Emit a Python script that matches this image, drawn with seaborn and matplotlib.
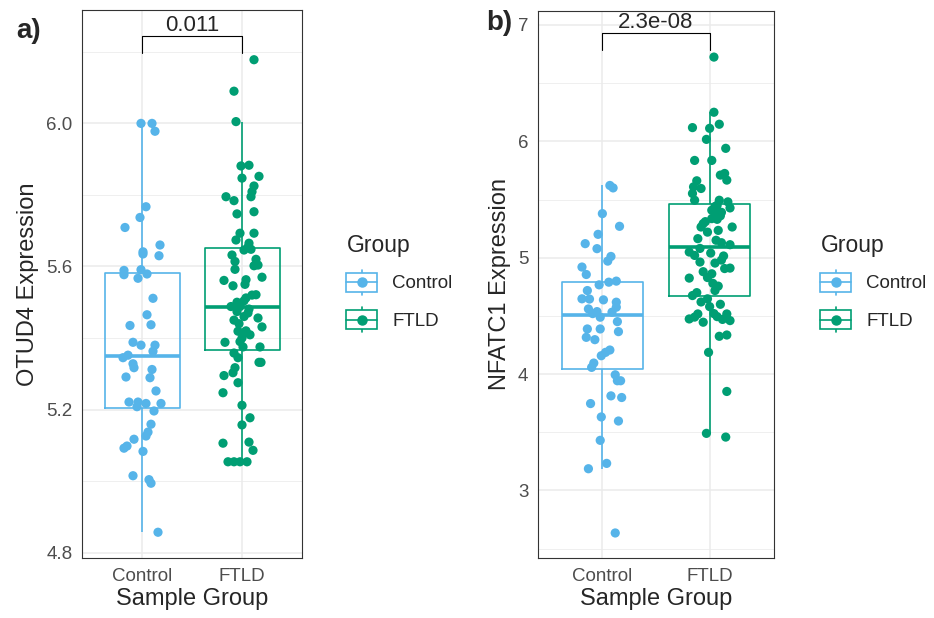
import pandas as pd
import matplotlib
matplotlib.use("Agg")
import matplotlib.pyplot as plt
import seaborn as sns
from matplotlib.legend_handler import HandlerBase
from matplotlib.lines import Line2D
from matplotlib.patches import Rectangle
from matplotlib.ticker import FixedLocator

groups = ["Control", "FTLD"]
palette = {"Control": "#56B4E9", "FTLD": "#009E73"}

# a) OTUD4 expression, values + horizontal jitter
otud4_control = [6.00, 6.00, 5.978, 5.767, 5.737, 5.709, 5.66, 5.641, 5.635, 5.630,
                 5.589, 5.577, 5.591, 5.567, 5.579, 5.511, 5.465, 5.435, 5.437, 5.388,
                 5.380, 5.380, 5.363, 5.352, 5.345, 5.328, 5.317, 5.312, 5.291, 5.289,
                 5.252, 5.221, 5.221, 5.217, 5.208, 5.217, 5.196, 5.159, 5.137, 5.126,
                 5.117, 5.098, 5.092, 5.083, 5.015, 5.004, 4.994, 4.857]
otud4_control_jit = [-0.01, 0.10, 0.13, 0.04, -0.02, -0.17, 0.18, 0.01, 0.01, 0.17,
                     -0.18, -0.18, -0.01, -0.04, 0.05, 0.11, 0.05, -0.12, 0.09, -0.09,
                     -0.01, 0.13, 0.11, -0.14, -0.19, -0.09, -0.08, 0.10, -0.16, 0.08,
                     0.14, -0.13, -0.04, 0.04, -0.05, 0.19, 0.12, 0.09, 0.06, 0.04,
                     -0.08, -0.15, -0.18, 0.01, -0.09, 0.07, 0.09, 0.16]
otud4_ftld = [6.178, 6.090, 6.005, 5.881, 5.883, 5.852, 5.847, 5.825, 5.809, 5.795,
              5.795, 5.784, 5.753, 5.747, 5.693, 5.693, 5.674, 5.665, 5.654, 5.646,
              5.648, 5.632, 5.620, 5.614, 5.604, 5.602, 5.592, 5.561, 5.563, 5.570,
              5.546, 5.521, 5.512, 5.504, 5.488, 5.488, 5.481, 5.474, 5.460, 5.456,
              5.431, 5.419, 5.414, 5.409, 5.400, 5.388, 5.375, 5.375, 5.358, 5.345,
              5.332, 5.332, 5.317, 5.303, 5.295, 5.275, 5.247, 5.212, 5.177, 5.157,
              5.106, 5.109, 5.086, 5.054, 5.054, 5.054, 5.054,
              5.44, 5.47, 5.42, 5.39, 5.45, 5.52, 5.50, 5.55]
otud4_ftld_jit = [0.12, -0.08, -0.06, -0.01, 0.07, 0.17, 0.00, 0.12, 0.10, 0.09,
                  -0.16, -0.08, 0.12, -0.05, -0.02, 0.12, -0.06, 0.07, 0.06, 0.02,
                  0.09, -0.10, 0.14, -0.07, 0.16, 0.12, -0.07, -0.18, 0.04, 0.20,
                  -0.09, 0.14, 0.04, 0.02, -0.11, -0.02, 0.07, -0.05, 0.02, 0.16,
                  0.20, -0.04, 0.01, 0.08, 0.00, -0.17, 0.18, 0.01, -0.08, -0.04,
                  0.19, 0.17, -0.07, -0.09, -0.18, -0.04, -0.19, 0.00, 0.08, 0.00,
                  -0.19, 0.07, 0.11, -0.14, -0.08, -0.02, 0.05,
                  -0.03, 0.06, 0.04, -0.02, -0.08, 0.10, -0.05, 0.03]
otud4_p = "0.011"

# b) NFATC1 expression
nfatc1_control = [5.621, 5.60, 5.379, 5.270, 5.201, 5.121, 5.078, 5.011, 4.971, 4.920,
                  4.856, 4.767, 4.790, 4.799, 4.718, 4.647, 4.645, 4.638, 4.618, 4.575,
                  4.560, 4.537, 4.532, 4.52, 4.489, 4.451, 4.388, 4.388, 4.365, 4.316,
                  4.296, 4.207, 4.187, 4.158, 4.095, 4.058, 3.994, 3.943, 3.943, 3.813,
                  3.799, 3.747, 3.632, 3.597, 3.431, 3.233, 3.187, 2.635]
nfatc1_control_jit = [0.07, 0.10, 0.00, 0.16, -0.04, -0.16, -0.05, 0.08, 0.05, -0.19,
                      -0.15, -0.03, 0.06, 0.13, -0.14, -0.19, -0.12, 0.01, 0.13, 0.13,
                      -0.13, -0.05, 0.09, -0.09, -0.02, 0.14, -0.14, -0.02, 0.15, -0.15,
                      -0.07, 0.07, 0.03, -0.01, -0.08, -0.10, 0.12, 0.14, 0.17, 0.08,
                      0.18, -0.11, -0.01, 0.15, -0.02, 0.04, -0.13, 0.12]
nfatc1_ftld = [6.724, 6.250, 6.147, 6.118, 6.112, 6.017, 5.940, 5.836, 5.836, 5.710,
               5.724, 5.667, 5.661, 5.609, 5.595, 5.552, 5.494, 5.494, 5.480, 5.451,
               5.428, 5.408, 5.379, 5.39, 5.336, 5.33, 5.293, 5.264, 5.264, 5.235,
               5.164, 5.129, 5.112, 5.049, 5.020, 5.015, 4.963, 4.954, 4.911, 4.907,
               4.862, 4.825, 4.83, 4.756, 4.718, 4.675, 4.647, 4.580, 4.474, 4.517,
               4.446, 4.494, 4.517, 4.460, 4.325, 4.336, 4.187, 3.851, 3.491, 3.459,
               5.44, 5.36, 5.31, 5.22, 5.15, 5.08, 5.04, 4.98, 4.88, 4.78,
               4.70, 4.49, 4.47, 4.52, 4.62, 4.60]
nfatc1_ftld_jit = [0.04, 0.04, 0.09, -0.16, 0.00, -0.03, 0.15, -0.14, 0.02, 0.10,
                   0.14, 0.16, -0.12, -0.15, -0.08, -0.16, -0.14, 0.09, 0.17, 0.07,
                   0.19, 0.02, 0.05, 0.11, 0.02, 0.07, -0.06, -0.08, 0.21, 0.08,
                   -0.11, 0.11, 0.19, -0.19, -0.14, 0.13, -0.09, 0.05, 0.19, 0.14,
                   0.02, -0.19, -0.02, 0.08, 0.05, -0.16, -0.02, 0.00, -0.19, -0.11,
                   -0.06, 0.07, 0.16, 0.19, 0.09, 0.16, -0.01, 0.16, -0.03, 0.15,
                   0.05, 0.10, -0.04, -0.02, 0.06, -0.09, 0.01, 0.11, -0.06, 0.03,
                   -0.12, -0.14, 0.12, 0.04, -0.08, 0.10]
nfatc1_p = "2.3e-08"


class BoxKey(HandlerBase):
    # ggplot style boxplot legend key: box + whisker + point
    def create_artists(self, legend, orig_handle, xdescent, ydescent,
                       width, height, fontsize, trans):
        c = orig_handle.get_color()
        x0, y0 = -xdescent, -ydescent
        whisk = Line2D([x0 + width / 2] * 2, [y0, y0 + height], color=c, lw=1.2, transform=trans)
        rect = Rectangle((x0, y0 + 0.12 * height), width, 0.76 * height,
                         facecolor="white", edgecolor=c, lw=1.2, transform=trans)
        med = Line2D([x0, x0 + width], [y0 + height / 2] * 2, color=c, lw=1.2, transform=trans)
        dot = Line2D([x0 + width / 2], [y0 + height / 2], marker="o", ms=6.5,
                     color=c, ls="none", transform=trans)
        return [whisk, rect, med, dot]


def draw_panel(ax, ctrl, ctrl_jit, ftld, ftld_jit, ylabel, pval, ylim, majors, minors, fmt):
    df = pd.DataFrame({
        "Group": ["Control"] * len(ctrl) + ["FTLD"] * len(ftld),
        "value": ctrl + ftld,
    })
    df["xpos"] = [0 + j for j in ctrl_jit] + [1 + j for j in ftld_jit]

    sns.boxplot(data=df, x="Group", y="value", hue="Group", order=groups,
                palette=palette, fill=False, width=0.75, showfliers=False,
                showcaps=False, linewidth=1.2, medianprops={"linewidth": 2.6},
                legend=False, ax=ax)
    sns.scatterplot(data=df, x="xpos", y="value", hue="Group", palette=palette,
                    s=44, linewidth=0, legend=False, ax=ax, zorder=3)

    ax.set_xlim(-0.6, 1.6)
    ax.set_ylim(*ylim)
    ax.xaxis.set_major_locator(FixedLocator([0, 1]))
    ax.set_xticklabels(groups)
    ax.yaxis.set_major_locator(FixedLocator(majors))
    ax.set_yticklabels([fmt.format(v) for v in majors])
    ax.yaxis.set_minor_locator(FixedLocator(minors))

    ax.set_axisbelow(True)
    ax.grid(True, which="major", color="#EBEBEB", lw=1.1)
    ax.grid(True, which="minor", axis="y", color="#EBEBEB", lw=0.55)
    ax.tick_params(which="major", length=4, width=0.8, color="#333333",
                   labelcolor="#4D4D4D", labelsize=13.5, pad=3)
    ax.tick_params(which="minor", length=0)
    for s in ax.spines.values():
        s.set_color("#333333")
        s.set_linewidth(0.8)

    ax.set_xlabel("Sample Group", fontsize=17, labelpad=2)
    ax.set_ylabel(ylabel, fontsize=17, labelpad=5)

    # significance bracket
    top = max(ctrl + ftld)
    bot = min(ctrl + ftld)
    y_br = top + 0.05 * (top - bot)
    tip = 0.03 * (ylim[1] - ylim[0])
    ax.plot([0, 0, 1, 1], [y_br - tip, y_br, y_br, y_br - tip], color="black", lw=0.8)
    ax.annotate(pval, xy=(0.5, y_br), xytext=(0, 4), textcoords="offset points",
                ha="center", va="baseline", fontsize=16)

    handles = [Line2D([], [], color=palette[g]) for g in groups]
    return handles


sns.set_style("white")
plt.rcParams["font.family"] = ["Liberation Sans", "DejaVu Sans"]

fig = plt.figure(figsize=(9.34, 6.18), dpi=100)
ax1 = fig.add_axes([82 / 934, 60 / 618, 220 / 934, 548 / 618])
ax2 = fig.add_axes([538 / 934, 60 / 618, 236 / 934, 547 / 618])

h = draw_panel(ax1, otud4_control, otud4_control_jit, otud4_ftld, otud4_ftld_jit,
               "OTUD4 Expression", otud4_p, (4.785, 6.317),
               [4.8, 5.2, 5.6, 6.0], [5.0, 5.4, 5.8, 6.2], "{:.1f}")
draw_panel(ax2, nfatc1_control, nfatc1_control_jit, nfatc1_ftld, nfatc1_ftld_jit,
           "NFATC1 Expression", nfatc1_p, (2.42, 7.12),
           [3, 4, 5, 6, 7], [2.5, 3.5, 4.5, 5.5, 6.5], "{:.0f}")

for ax, lx in [(ax1, 337), (ax2, 811)]:
    leg = ax.legend(h, groups, handler_map={Line2D: BoxKey()}, title="Group",
                    loc="upper left", bbox_to_anchor=(lx / 934, 1 - 225 / 618),
                    bbox_transform=fig.transFigure, frameon=False, borderpad=0,
                    fontsize=13.5, title_fontsize=16.5, alignment="left",
                    handlelength=1.65, handleheight=1.65, labelspacing=0.67,
                    handletextpad=0.8)

fig.text(16 / 934, 1 - 31 / 618, "a)", fontsize=20, fontweight="bold", ha="left", va="center")
fig.text(486 / 934, 1 - 23 / 618, "b)", fontsize=20, fontweight="bold", ha="left", va="center")

fig.savefig("out.png", dpi=100)
